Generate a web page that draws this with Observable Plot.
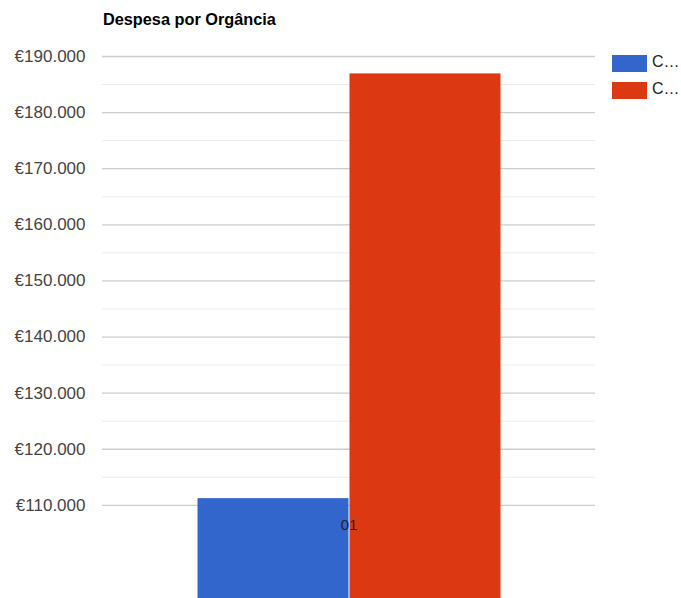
<!DOCTYPE html>
<html>
<head>
<meta charset="utf-8">
<script src="https://cdn.jsdelivr.net/npm/d3@7"></script>
<script src="https://cdn.jsdelivr.net/npm/@observablehq/plot@0.6"></script>
<style>
  body { margin: 0; background: #fff; font-family: "Liberation Sans", Arial, sans-serif; }
  #wrap { position: relative; width: 681px; height: 598px; overflow: hidden; }
  #title { position: absolute; left: 103px; top: 10px; font-weight: bold; font-size: 16.3px; color: #000; }
  .leg { position: absolute; left: 612px; font-size: 16px; color: #222; white-space: nowrap; }
  .leg span.sw { position: absolute; left: 0; top: 0; width: 35px; height: 17px; }
  .leg span.lb { position: absolute; left: 40px; top: -2px; }
</style>
</head>
<body>
<div id="wrap">
  <div id="chart"></div>
  <div id="title">Despesa por Orgância</div>
</div>
<script>
const title = "Despesa por Orgância";
const category = "01";
const seriesLabels = ["C…", "C…"];
const seriesColors = ["#3366cc", "#dc3912"];
const values = [111200, 186900];
const majorTicks = [110000, 120000, 130000, 140000, 150000, 160000, 170000, 180000, 190000];
const minorTicks = [115000, 125000, 135000, 145000, 155000, 165000, 175000, 185000];

const data = values.map((v, i) => ({ idx: i, label: seriesLabels[i], value: v }));
const fmt = v => "€" + d3.format(",")(v).replace(/,/g, ".");

const chart = Plot.plot({
  width: 681,
  height: 598,
  marginTop: 56,
  marginBottom: 0,
  marginLeft: 102,
  marginRight: 86,
  style: { fontFamily: "Liberation Sans, Arial, sans-serif", overflow: "hidden" },
  x: { type: "band", domain: data.map(d => d.idx), paddingInner: 0, paddingOuter: 0.618, axis: null },
  y: { domain: [93400, 190000], clamp: true, axis: null },
  color: { domain: data.map(d => d.idx), range: seriesColors },
  marks: [
    Plot.ruleY(minorTicks, { stroke: "#ebebeb", strokeWidth: 1 }),
    Plot.ruleY(majorTicks, { stroke: "#cccccc", strokeWidth: 1.3 }),
    Plot.barY(data, { x: "idx", y1: 0, y2: "value", fill: "idx", insetRight: 0.5, insetLeft: 0.5 }),
    Plot.axisY({ ticks: majorTicks, label: null, tickSize: 0, tickPadding: 17, tickFormat: fmt, fontSize: 17, fill: "#444", textAnchor: "end" }),
    Plot.text([category], { frameAnchor: "top", dy: 463, fontSize: 15, fill: "#222" })
  ]
});
document.getElementById("chart").appendChild(chart);

const wrap = document.getElementById("wrap");
seriesLabels.forEach((lab, i) => {
  const d = document.createElement("div");
  d.className = "leg";
  d.style.top = (55 + i * 27) + "px";
  d.innerHTML = `<span class="sw" style="background:${seriesColors[i]}"></span><span class="lb">${lab}</span>`;
  wrap.appendChild(d);
});
</script>
</body>
</html>
